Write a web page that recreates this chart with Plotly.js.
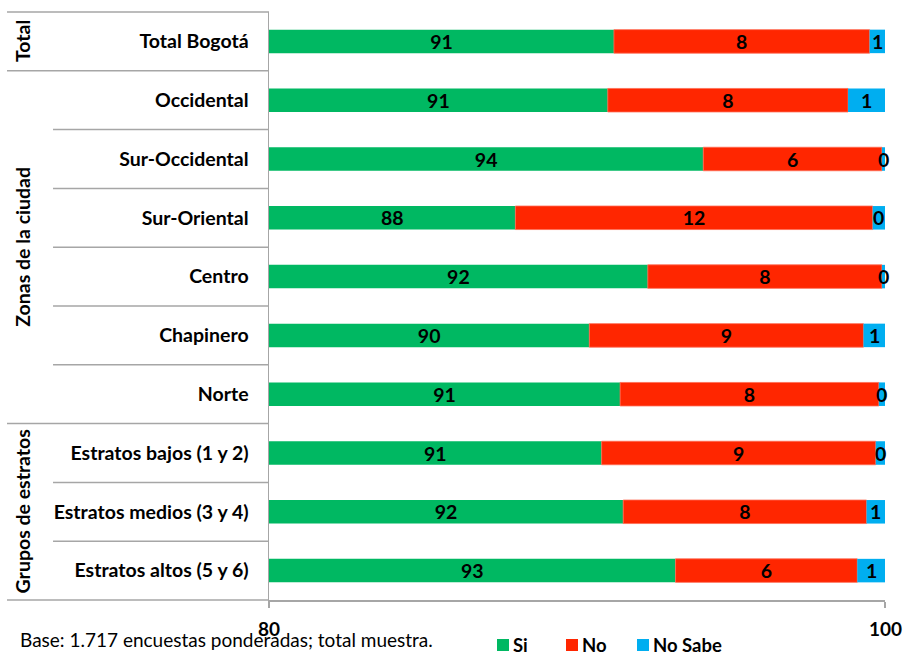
<!DOCTYPE html>
<html>
<head>
<meta charset="utf-8">
<script src="https://cdn.plot.ly/plotly-3.0.1.min.js"></script>
<style>
html,body{margin:0;padding:0;background:#fff;}
#chart{width:903px;height:656px;}
</style>
</head>
<body>
<div id="chart"></div>
<script>
var categories = ["Total Bogotá","Occidental","Sur-Occidental","Sur-Oriental","Centro","Chapinero","Norte","Estratos bajos (1 y 2)","Estratos medios (3 y 4)","Estratos altos (5 y 6)"];
var si      = [91.2, 91.0, 94.1, 88.0, 92.3, 90.4, 91.4, 90.8, 91.5, 93.2];
var no      = [8.3, 7.8, 5.8, 11.6, 7.6, 8.9, 8.4, 8.9, 7.9, 5.9];
var noSabe  = [0.5, 1.2, 0.1, 0.4, 0.1, 0.7, 0.2, 0.3, 0.6, 0.9];
var seriesNames = ["Si","No","No Sabe"];
var seriesColors = ["#00b862","#ff2600","#00aef0"];
var groups = [
  {label:"Total", from:0, to:1},
  {label:"Zonas de la ciudad", from:1, to:7},
  {label:"Grupos de estratos", from:7, to:10}
];
var axisMin = 80, axisMax = 100;
var tickVals = [80, 100];
var baseNote = "Base: 1.717 encuestas ponderadas; total muestra.";

var FONT = "Lato, 'Open Sans', sans-serif";
var FS = 19.5;
var lbl = function(arr){ return arr.map(function(v){ return String(Math.round(v)); }); };

var common = {
  type:'bar', orientation:'h', y:categories, width:0.4,
  textposition:'inside', insidetextanchor:'middle', constraintext:'none', textangle:0,
  textfont:{family:FONT, size:FS, color:'#000', weight:'bold'},
  hoverinfo:'skip', showlegend:false, cliponaxis:false
};
var nsBase = si.map(function(v,i){return v+no[i];});
var traces = [
  Object.assign({}, common, {name:seriesNames[0], x:si.map(function(v){return v-axisMin;}), base:axisMin, text:lbl(si), marker:{color:seriesColors[0]}}),
  Object.assign({}, common, {name:seriesNames[1], x:no, base:si, text:lbl(no), marker:{color:seriesColors[1], line:{color:'#ff6a50', width:0.8}}}),
  Object.assign({}, common, {name:seriesNames[2], x:noSabe, base:nsBase, textposition:'none', marker:{color:seriesColors[2]}})
];

var n = categories.length;
var shapes = [], annotations = [];
var GRAY = '#a6a6a6';
var xOuter = -0.4253, xInner = -0.3506;
for (var i = 0; i <= n; i++) {
  var isGroupEdge = groups.some(function(g){ return g.from === i || g.to === i; });
  shapes.push({type:'line', xref:'paper', yref:'paper', x0:isGroupEdge?xOuter:xInner, x1:0, y0:1-i/n, y1:1-i/n, line:{color:GRAY, width:1.5}});
}
groups.forEach(function(g){
  annotations.push({xref:'paper', yref:'paper', x:-0.4, y:1-(g.from+g.to)/2/n, text:'<b>'+g.label+'</b>', textangle:-90, showarrow:false, xanchor:'center', yanchor:'middle', font:{family:FONT, size:FS, color:'#000'}});
});
noSabe.forEach(function(v, i){
  annotations.push({xref:'x', yref:'y', x:nsBase[i] + v/2, y:categories[i], text:'<b>'+Math.round(v)+'</b>', showarrow:false, xanchor:'center', yanchor:'middle', font:{family:FONT, size:FS, color:'#000'}});
});
// x-axis tick labels (bold)
tickVals.forEach(function(v){
  annotations.push({xref:'x', yref:'paper', x:v, y:-(629-600)/588, text:'<b>'+v+'</b>', showarrow:false, xanchor:'center', yanchor:'middle', font:{family:FONT, size:19, color:'#000'}});
});
annotations.push({xref:'paper', yref:'paper', x:-0.407, y:-(639-600)/588, xanchor:'left', yanchor:'middle', text:baseNote, showarrow:false, font:{family:FONT, size:19, color:'#000'}});

var legX = [0.3701, 0.4821, 0.5974];
seriesNames.forEach(function(nm, k){
  shapes.push({type:'rect', xref:'paper', yref:'paper', x0:legX[k], x1:legX[k]+12/616, y0:-(639-600)/588, y1:-(651-600)/588, fillcolor:seriesColors[k], line:{width:0}});
  annotations.push({xref:'paper', yref:'paper', x:legX[k]+14/616, y:-(644.5-600)/588, xanchor:'left', yanchor:'middle', text:'<b>'+nm+'</b>', showarrow:false, font:{family:FONT, size:18.5, color:'#000'}});
});

var layout = {
  width:903, height:656,
  margin:{l:269, r:18, t:12, b:56, pad:0},
  paper_bgcolor:'#fff', plot_bgcolor:'#fff',
  barmode:'overlay',
  uniformtext:{mode:'show', minsize:FS},
  xaxis:{range:[axisMin, axisMax], tickvals:tickVals, showticklabels:false, showgrid:false, zeroline:false,
         showline:true, linecolor:GRAY, linewidth:1.5, ticks:'outside', ticklen:6, tickcolor:GRAY, tickwidth:1.5, fixedrange:true},
  yaxis:{autorange:'reversed', showgrid:false, zeroline:false, showline:true, linecolor:GRAY, linewidth:1.5, ticks:'',
         tickfont:{family:FONT, size:FS, color:'#000', weight:'bold'}, ticklabelstandoff:15, fixedrange:true},
  shapes:shapes, annotations:annotations,
  font:{family:FONT}
};
Plotly.newPlot('chart', traces, layout, {staticPlot:true, displayModeBar:false});
</script>
</body>
</html>
